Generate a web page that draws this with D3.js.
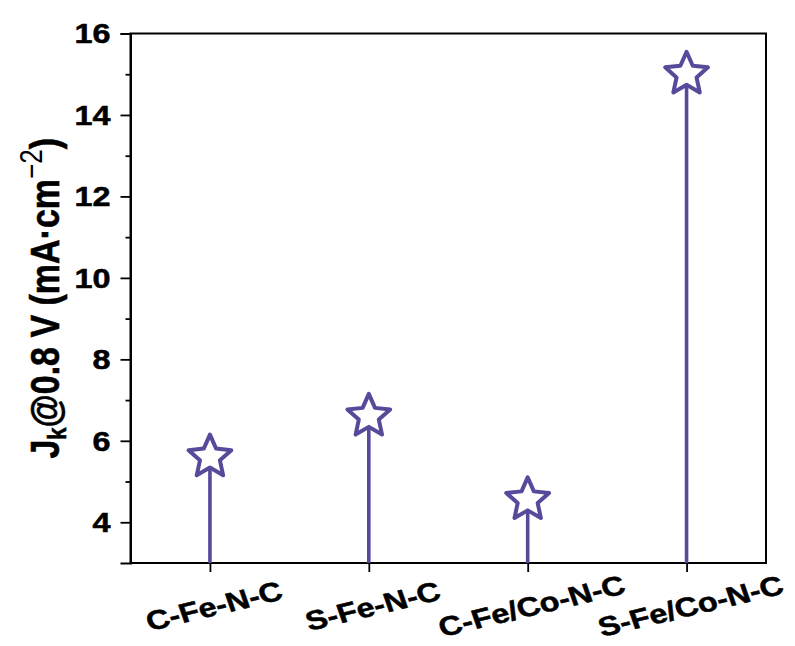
<!DOCTYPE html>
<html>
<head>
<meta charset="utf-8">
<script src="https://cdn.jsdelivr.net/npm/d3@7"></script>
<style>
  body { margin: 0; background: #fff; }
  text { font-family: "Liberation Sans", Arial, sans-serif; font-weight: bold; fill: #000; stroke: #000; stroke-width: 0.5px; }
</style>
</head>
<body>
<script>
var samples = ["C-Fe-N-C", "S-Fe-N-C", "C-Fe/Co-N-C", "S-Fe/Co-N-C"];
var jk = [5.6, 6.6, 4.55, 15.0];
var yMajor = [4, 6, 8, 10, 12, 14, 16];
var yMinor = [5, 7, 9, 11, 13, 15];

var width = 795, height = 646;
var plotL = 130.5, plotR = 766, plotT = 33.5, plotB = 563;
var col = "#574a9b";
var sx = 1.2; // reference text is stretched sideways

var svg = d3.select("body").append("svg")
    .attr("width", width)
    .attr("height", height);

var xScale = d3.scaleLinear().domain([0.5, 4.5]).range([plotL, plotR]);
var yScale = d3.scaleLinear().domain([3, 16]).range([plotB, plotT]);

// frame
svg.append("rect")
    .attr("x", plotL).attr("y", plotT)
    .attr("width", plotR - plotL).attr("height", plotB - plotT)
    .attr("fill", "none").attr("stroke", "#000").attr("stroke-width", 2);

// y axis, minor then major
svg.append("g")
    .attr("transform", "translate(" + plotL + ",0)")
    .call(d3.axisLeft(yScale).tickValues(yMinor).tickSize(5).tickFormat(""))
    .call(function(g){ g.select(".domain").remove(); g.selectAll("line").attr("stroke-width", 1.8); });

var yAxisGroup = svg.append("g")
    .attr("transform", "translate(" + plotL + ",0)")
    .call(d3.axisLeft(yScale).tickValues(yMajor).tickSize(10).tickPadding(0));
yAxisGroup.select(".domain").attr("stroke-width", 2);
yAxisGroup.selectAll("line").attr("stroke-width", 1.8);
yAxisGroup.selectAll("text")
    .attr("font-size", 27)
    .attr("font-family", "Liberation Sans, Arial, sans-serif")
    .attr("font-weight", "bold")
    .attr("x", -20 / sx)
    .attr("dy", "0.35em")
    .attr("transform", "scale(" + sx + ",1)");

// x axis
var xAxisGroup = svg.append("g")
    .attr("transform", "translate(0," + plotB + ")")
    .call(d3.axisBottom(xScale).tickValues([1, 2, 3, 4]).tickSize(9).tickFormat(""));
xAxisGroup.select(".domain").remove();
xAxisGroup.selectAll("line").attr("stroke-width", 1.8);

svg.selectAll(".xlab")
    .data(samples)
    .enter()
    .append("text")
    .attr("class", "xlab")
    .attr("transform", function(d, i){
      return "translate(" + (xScale(i + 1) + 4) + ",606) scale(" + sx + ",1) rotate(-16)";
    })
    .attr("text-anchor", "middle")
    .attr("dy", "0.35em")
    .attr("font-size", 27)
    .text(function(d){ return d; });

// y title
var title = svg.append("text")
    .attr("transform", "translate(59," + ((plotT + plotB) / 2) + ") scale(" + sx + ",1) rotate(-90)")
    .attr("text-anchor", "middle")
    .attr("font-size", 34);
title.append("tspan").text("J");
title.append("tspan").attr("font-size", 22).attr("dy", 6).text("k");
title.append("tspan").attr("dy", -6).text("@0.8 V (mA\u00b7cm");
title.append("tspan").attr("font-size", 26).attr("font-weight", "normal").attr("stroke-width", 0).attr("dy", -14).text("\u22122");
title.append("tspan").attr("dy", 14).text(")");

// stems
svg.selectAll(".stem")
    .data(jk)
    .enter()
    .append("line")
    .attr("class", "stem")
    .attr("x1", function(d, i){ return xScale(i + 1); })
    .attr("x2", function(d, i){ return xScale(i + 1); })
    .attr("y1", yScale(3))
    .attr("y2", function(d){ return yScale(d); })
    .attr("stroke", col)
    .attr("stroke-width", 3.6);

// stars
var R = 22.5, r = 10.5;
var starPts = d3.range(10).map(function(k){
  var a = k * Math.PI / 5, rr = k % 2 ? r : R;
  return [rr * Math.sin(a), -rr * Math.cos(a)];
});
svg.selectAll(".star")
    .data(jk)
    .enter()
    .append("path")
    .attr("class", "star")
    .attr("d", "M" + starPts.join("L") + "Z")
    .attr("transform", function(d, i){ return "translate(" + xScale(i + 1) + "," + yScale(d) + ")"; })
    .attr("fill", "#fff")
    .attr("stroke", col)
    .attr("stroke-width", 4)
    .attr("stroke-linejoin", "round");
</script>
</body>
</html>
